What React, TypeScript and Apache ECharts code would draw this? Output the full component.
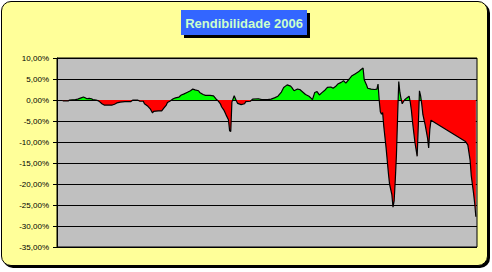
import React, { useEffect, useRef } from "react";
import * as echarts from "echarts";

const titulo = "Rendibilidade 2006";

// dia do ano (aprox.) e rendibilidade acumulada em %
const dias = [
  5, 10, 11, 16, 18, 21, 23, 24, 26, 28, 30, 31, 34, 36, 37, 39, 41, 44, 48, 50,
  52, 55, 59, 64, 66, 70, 72, 75, 76, 79, 81, 83, 84, 88, 91, 93, 95, 96, 98, 101,
  103, 106, 108, 110, 113, 116, 118, 120, 123, 124, 127, 129, 133, 136, 138, 140, 142, 143, 145, 147,
  149, 150, 151, 152, 154, 156, 157, 160, 163, 164, 168, 170, 175, 178, 183, 186, 189, 192, 195, 197,
  200, 203, 204, 206, 209, 211, 214, 216, 219, 221, 222, 224, 226, 228, 230, 233, 235, 238, 240, 242,
  244, 247, 249, 251, 254, 256, 259, 262, 264, 266, 267, 269, 270, 273, 276, 278, 279, 280, 281, 282,
  283, 284, 286, 288, 289, 291, 292, 293, 294, 295, 296, 297, 298, 299, 300, 302, 304, 306, 307, 308,
  309, 311, 313, 314, 315, 316, 317, 318, 320, 322, 323, 324, 325, 355, 357, 359, 360, 362, 363, 364,
];

const rendibilidade = [
  -0.2, -0.2, 0, 0.1, 0.2, 0.5, 0.7, 0.6, 0.3, 0.4, 0.3, 0.1, 0, -0.2, -0.4, -0.9, -1.2, -1.2, -1.2, -1.0,
  -0.7, -0.5, -0.4, -0.4, 0, 0, -0.3, -0.3, -0.9, -1.5, -2.1, -3.1, -2.7, -2.6, -2.6, -1.9, -1.2, -0.6, -0.3, 0.3,
  0.5, 0.7, 1.2, 1.4, 1.8, 2.2, 2.6, 2.4, 2.2, 1.8, 1.3, 1.1, 1.1, 1.0, 0.3, -0.2, -0.9, -1.6, -2.4, -3.6,
  -4.7, -7.3, -7.5, -0.5, 1.0, -0.3, -0.8, -1.1, -0.9, -0.4, -0.3, 0.2, 0.3, 0.1, 0.1, 0.2, 0.5, 0.9, 1.9, 3.0,
  3.6, 3.3, 3.0, 2.2, 2.6, 2.5, 1.8, 1.3, 0.9, 0.4, 0.1, 1.8, 2.0, 1.2, 1.7, 2.4, 3.0, 3.1, 2.8, 3.2,
  3.8, 4.2, 4.6, 4.0, 5.0, 5.7, 6.2, 6.7, 7.2, 7.6, 4.8, 3.6, 2.8, 2.6, 2.5, 2.6, 3.8, 0, -2.8, -3.4,
  -3.0, -6.3, -11.4, -17.4, -20.0, -22.5, -25.5, -24.0, -19.0, -13.0, -4.0, 4.4, 1.8, 0.3, -0.9, 0, 0.5, 0.9, -0.5, -2.5,
  -5.3, -10.0, -13.4, -6.0, 2.2, 1.0, -1.0, -3.5, -6.0, -9.0, -11.4, -7.0, -4.8, -9.9, -10.7, -14.3, -18.0, -22.2, -24.6, -27.8,
];

const yMin = -35;
const yMax = 10;
const yStep = 5;

const formatPct = (v: number) => v.toFixed(2).replace(".", ",") + "%";

export default function App() {
  const ref = useRef<HTMLDivElement>(null);

  useEffect(() => {
    if (!ref.current) return;
    const chart = echarts.init(ref.current, undefined, { renderer: "svg" });
    const data = dias.map((d, i) => [d, rendibilidade[i]]);
    chart.setOption({
      animation: false,
      backgroundColor: "transparent",
      grid: {
        left: 57,
        right: 15,
        top: 58,
        bottom: 25,
        show: true,
        backgroundColor: "#C0C0C0",
        borderColor: "#000",
        borderWidth: 1,
      },
      xAxis: {
        type: "value",
        min: 0,
        max: 365,
        show: false,
      },
      yAxis: {
        type: "value",
        min: yMin,
        max: yMax,
        interval: yStep,
        axisLine: { show: true, lineStyle: { color: "#000", width: 1 } },
        axisTick: { show: true, length: 4, inside: false, lineStyle: { color: "#000" } },
        splitLine: { show: true, lineStyle: { color: "#000", width: 1, type: "solid" } },
        axisLabel: {
          formatter: formatPct,
          color: "#000",
          fontSize: 8,
          fontFamily: "Arial, 'Liberation Sans', sans-serif",
          margin: 8,
        },
      },
      visualMap: {
        type: "piecewise",
        show: false,
        seriesIndex: 0,
        dimension: 1,
        pieces: [
          { gt: 0, lte: 50, color: "#00FF00" },
          { gt: -50, lte: 0, color: "#FF0000" },
        ],
        outOfRange: { color: "#FF0000" },
      },
      series: [
        {
          type: "line",
          data,
          showSymbol: false,
          symbol: "none",
          lineStyle: { width: 1, opacity: 0 },
          areaStyle: { opacity: 1 },
          silent: true,
        },
        {
          type: "line",
          data,
          showSymbol: false,
          symbol: "none",
          lineStyle: { width: 1.2, color: "#000" },
          silent: true,
        },
      ],
      graphic: [
        {
          type: "rect",
          shape: { x: 184, y: 13, width: 126, height: 25 },
          style: { fill: "#000" },
        },
        {
          type: "rect",
          shape: { x: 181, y: 10, width: 126, height: 25 },
          style: { fill: "#3366FF" },
        },
        {
          type: "text",
          x: 244,
          y: 23,
          style: {
            text: titulo,
            fill: "#CCFFCC",
            font: "bold 13px Arial, 'Liberation Sans', sans-serif",
            align: "center",
            verticalAlign: "middle",
          },
        },
      ],
    });
    return () => chart.dispose();
  }, []);

  return (
    <div
      style={{
        position: "fixed",
        left: 0,
        top: 0,
        width: 492,
        height: 272,
        background: "#fff",
        overflow: "hidden",
      }}
    >
      <div
        style={{
          position: "absolute",
          left: 1,
          top: 1,
          width: 485,
          height: 263,
          border: "1px solid #000",
          borderRadius: 10,
          background: "#FFFF99",
          boxShadow: "2px 2px 0 #000",
        }}
      />
      <div ref={ref} style={{ position: "absolute", left: 0, top: 0, width: 492, height: 272 }} />
    </div>
  );
}
